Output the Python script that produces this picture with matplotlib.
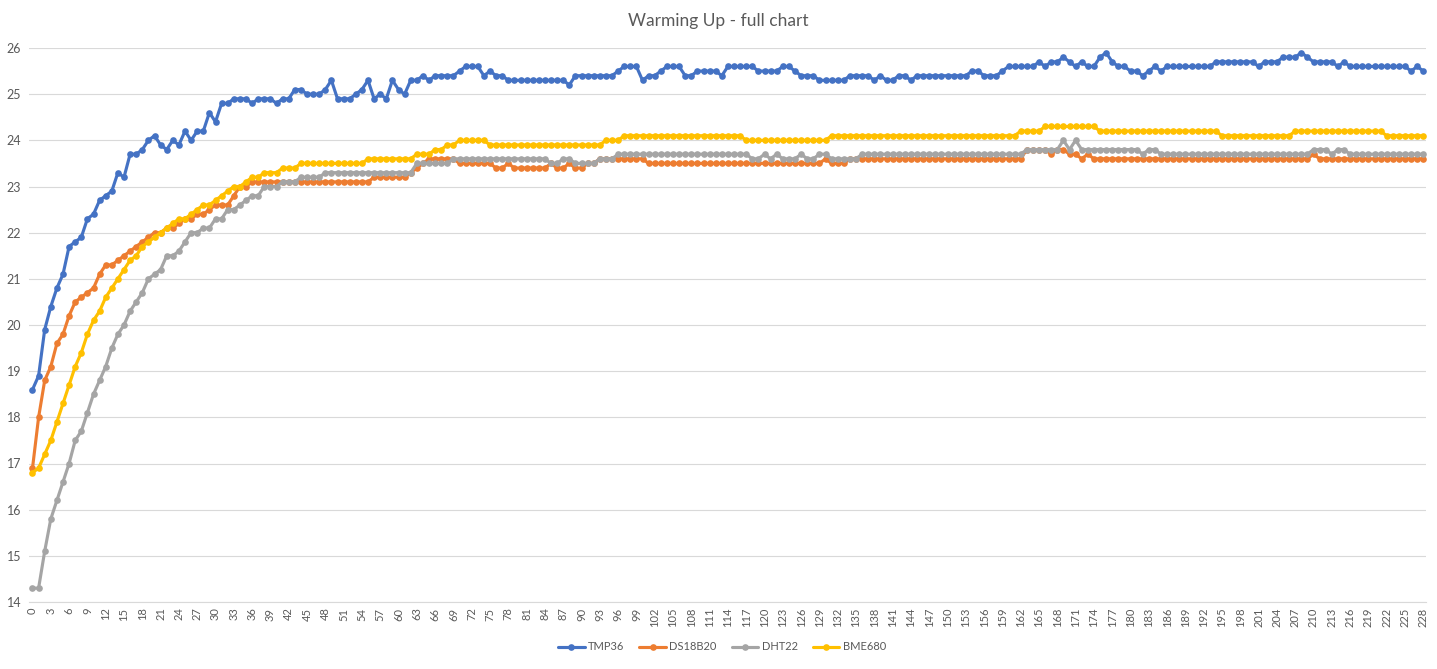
import matplotlib
matplotlib.use("Agg")
import matplotlib.pyplot as plt

plt.rcParams['font.family'] = ['Lato', 'DejaVu Sans']

# categories (sample number)
samples = list(range(229))

tmp36 = [
    18.6, 18.9, 19.9, 20.4, 20.8, 21.1, 21.7, 21.8, 21.9, 22.3,
    22.4, 22.7, 22.8, 22.9, 23.3, 23.2, 23.7, 23.7, 23.8, 24.0,
    24.1, 23.9, 23.8, 24.0, 23.9, 24.2, 24.0, 24.2, 24.2, 24.6,
    24.4, 24.8, 24.8, 24.9, 24.9, 24.9, 24.8, 24.9, 24.9, 24.9,
    24.8, 24.9, 24.9, 25.1, 25.1, 25.0, 25.0, 25.0, 25.1, 25.3,
    24.9, 24.9, 24.9, 25.0, 25.1, 25.3, 24.9, 25.0, 24.9, 25.3,
    25.1, 25.0, 25.3, 25.3, 25.4, 25.3, 25.4, 25.4, 25.4, 25.4,
    25.5, 25.6, 25.6, 25.6, 25.4, 25.5, 25.4, 25.4, 25.3, 25.3,
    25.3, 25.3, 25.3, 25.3, 25.3, 25.3, 25.3, 25.3, 25.2, 25.4,
    25.4, 25.4, 25.4, 25.4, 25.4, 25.4, 25.5, 25.6, 25.6, 25.6,
    25.3, 25.4, 25.4, 25.5, 25.6, 25.6, 25.6, 25.4, 25.4, 25.5,
    25.5, 25.5, 25.5, 25.4, 25.6, 25.6, 25.6, 25.6, 25.6, 25.5,
    25.5, 25.5, 25.5, 25.6, 25.6, 25.5, 25.4, 25.4, 25.4, 25.3,
    25.3, 25.3, 25.3, 25.3, 25.4, 25.4, 25.4, 25.4, 25.3, 25.4,
    25.3, 25.3, 25.4, 25.4, 25.3, 25.4, 25.4, 25.4, 25.4, 25.4,
    25.4, 25.4, 25.4, 25.4, 25.5, 25.5, 25.4, 25.4, 25.4, 25.5,
    25.6, 25.6, 25.6, 25.6, 25.6, 25.7, 25.6, 25.7, 25.7, 25.8,
    25.7, 25.6, 25.7, 25.6, 25.6, 25.8, 25.9, 25.7, 25.6, 25.6,
    25.5, 25.5, 25.4, 25.5, 25.6, 25.5, 25.6, 25.6, 25.6, 25.6,
    25.6, 25.6, 25.6, 25.6, 25.7, 25.7, 25.7, 25.7, 25.7, 25.7,
    25.7, 25.6, 25.7, 25.7, 25.7, 25.8, 25.8, 25.8, 25.9, 25.8,
    25.7, 25.7, 25.7, 25.7, 25.6, 25.7, 25.6, 25.6, 25.6, 25.6,
    25.6, 25.6, 25.6, 25.6, 25.6, 25.6, 25.5, 25.6, 25.5,
]

ds18b20 = [
    16.9, 18.0, 18.8, 19.1, 19.6, 19.8, 20.2, 20.5, 20.6, 20.7,
    20.8, 21.1, 21.3, 21.3, 21.4, 21.5, 21.6, 21.7, 21.8, 21.9,
    22.0, 22.0, 22.1, 22.1, 22.2, 22.3, 22.3, 22.4, 22.4, 22.5,
    22.6, 22.6, 22.6, 22.8, 23.0, 23.0, 23.1, 23.1, 23.1, 23.1,
    23.1, 23.1, 23.1, 23.1, 23.1, 23.1, 23.1, 23.1, 23.1, 23.1,
    23.1, 23.1, 23.1, 23.1, 23.1, 23.1, 23.2, 23.2, 23.2, 23.2,
    23.2, 23.2, 23.3, 23.4, 23.5, 23.6, 23.6, 23.6, 23.6, 23.6,
    23.5, 23.5, 23.5, 23.5, 23.5, 23.5, 23.4, 23.4, 23.5, 23.4,
    23.4, 23.4, 23.4, 23.4, 23.4, 23.5, 23.4, 23.4, 23.5, 23.4,
    23.4, 23.5, 23.5, 23.6, 23.6, 23.6, 23.6, 23.6, 23.6, 23.6,
    23.6, 23.5, 23.5, 23.5, 23.5, 23.5, 23.5, 23.5, 23.5, 23.5,
    23.5, 23.5, 23.5, 23.5, 23.5, 23.5, 23.5, 23.5, 23.5, 23.5,
    23.5, 23.5, 23.5, 23.5, 23.5, 23.5, 23.5, 23.5, 23.5, 23.5,
    23.6, 23.5, 23.5, 23.5, 23.6, 23.6, 23.6, 23.6, 23.6, 23.6,
    23.6, 23.6, 23.6, 23.6, 23.6, 23.6, 23.6, 23.6, 23.6, 23.6,
    23.6, 23.6, 23.6, 23.6, 23.6, 23.6, 23.6, 23.6, 23.6, 23.6,
    23.6, 23.6, 23.6, 23.8, 23.8, 23.8, 23.8, 23.7, 23.8, 23.8,
    23.7, 23.7, 23.6, 23.7, 23.6, 23.6, 23.6, 23.6, 23.6, 23.6,
    23.6, 23.6, 23.6, 23.6, 23.6, 23.6, 23.6, 23.6, 23.6, 23.6,
    23.6, 23.6, 23.6, 23.6, 23.6, 23.6, 23.6, 23.6, 23.6, 23.6,
    23.6, 23.6, 23.6, 23.6, 23.6, 23.6, 23.6, 23.6, 23.6, 23.6,
    23.7, 23.6, 23.6, 23.6, 23.6, 23.6, 23.6, 23.6, 23.6, 23.6,
    23.6, 23.6, 23.6, 23.6, 23.6, 23.6, 23.6, 23.6, 23.6,
]

dht22 = [
    14.3, 14.3, 15.1, 15.8, 16.2, 16.6, 17.0, 17.5, 17.7, 18.1,
    18.5, 18.8, 19.1, 19.5, 19.8, 20.0, 20.3, 20.5, 20.7, 21.0,
    21.1, 21.2, 21.5, 21.5, 21.6, 21.8, 22.0, 22.0, 22.1, 22.1,
    22.3, 22.3, 22.5, 22.5, 22.6, 22.7, 22.8, 22.8, 23.0, 23.0,
    23.0, 23.1, 23.1, 23.1, 23.2, 23.2, 23.2, 23.2, 23.3, 23.3,
    23.3, 23.3, 23.3, 23.3, 23.3, 23.3, 23.3, 23.3, 23.3, 23.3,
    23.3, 23.3, 23.3, 23.5, 23.5, 23.5, 23.5, 23.5, 23.5, 23.6,
    23.6, 23.6, 23.6, 23.6, 23.6, 23.6, 23.6, 23.6, 23.6, 23.6,
    23.6, 23.6, 23.6, 23.6, 23.6, 23.5, 23.5, 23.6, 23.6, 23.5,
    23.5, 23.5, 23.5, 23.6, 23.6, 23.6, 23.7, 23.7, 23.7, 23.7,
    23.7, 23.7, 23.7, 23.7, 23.7, 23.7, 23.7, 23.7, 23.7, 23.7,
    23.7, 23.7, 23.7, 23.7, 23.7, 23.7, 23.7, 23.7, 23.6, 23.6,
    23.7, 23.6, 23.7, 23.6, 23.6, 23.6, 23.7, 23.6, 23.6, 23.7,
    23.7, 23.6, 23.6, 23.6, 23.6, 23.6, 23.7, 23.7, 23.7, 23.7,
    23.7, 23.7, 23.7, 23.7, 23.7, 23.7, 23.7, 23.7, 23.7, 23.7,
    23.7, 23.7, 23.7, 23.7, 23.7, 23.7, 23.7, 23.7, 23.7, 23.7,
    23.7, 23.7, 23.7, 23.8, 23.8, 23.8, 23.8, 23.8, 23.8, 24.0,
    23.8, 24.0, 23.8, 23.8, 23.8, 23.8, 23.8, 23.8, 23.8, 23.8,
    23.8, 23.8, 23.7, 23.8, 23.8, 23.7, 23.7, 23.7, 23.7, 23.7,
    23.7, 23.7, 23.7, 23.7, 23.7, 23.7, 23.7, 23.7, 23.7, 23.7,
    23.7, 23.7, 23.7, 23.7, 23.7, 23.7, 23.7, 23.7, 23.7, 23.7,
    23.8, 23.8, 23.8, 23.7, 23.8, 23.8, 23.7, 23.7, 23.7, 23.7,
    23.7, 23.7, 23.7, 23.7, 23.7, 23.7, 23.7, 23.7, 23.7,
]

bme680 = [
    16.8, 16.9, 17.2, 17.5, 17.9, 18.3, 18.7, 19.1, 19.4, 19.8,
    20.1, 20.3, 20.6, 20.8, 21.0, 21.2, 21.4, 21.5, 21.7, 21.8,
    21.9, 22.0, 22.1, 22.2, 22.3, 22.3, 22.4, 22.5, 22.6, 22.6,
    22.7, 22.8, 22.9, 23.0, 23.0, 23.1, 23.2, 23.2, 23.3, 23.3,
    23.3, 23.4, 23.4, 23.4, 23.5, 23.5, 23.5, 23.5, 23.5, 23.5,
    23.5, 23.5, 23.5, 23.5, 23.5, 23.6, 23.6, 23.6, 23.6, 23.6,
    23.6, 23.6, 23.6, 23.7, 23.7, 23.7, 23.8, 23.8, 23.9, 23.9,
    24.0, 24.0, 24.0, 24.0, 24.0, 23.9, 23.9, 23.9, 23.9, 23.9,
    23.9, 23.9, 23.9, 23.9, 23.9, 23.9, 23.9, 23.9, 23.9, 23.9,
    23.9, 23.9, 23.9, 23.9, 24.0, 24.0, 24.0, 24.1, 24.1, 24.1,
    24.1, 24.1, 24.1, 24.1, 24.1, 24.1, 24.1, 24.1, 24.1, 24.1,
    24.1, 24.1, 24.1, 24.1, 24.1, 24.1, 24.1, 24.0, 24.0, 24.0,
    24.0, 24.0, 24.0, 24.0, 24.0, 24.0, 24.0, 24.0, 24.0, 24.0,
    24.0, 24.1, 24.1, 24.1, 24.1, 24.1, 24.1, 24.1, 24.1, 24.1,
    24.1, 24.1, 24.1, 24.1, 24.1, 24.1, 24.1, 24.1, 24.1, 24.1,
    24.1, 24.1, 24.1, 24.1, 24.1, 24.1, 24.1, 24.1, 24.1, 24.1,
    24.1, 24.1, 24.2, 24.2, 24.2, 24.2, 24.3, 24.3, 24.3, 24.3,
    24.3, 24.3, 24.3, 24.3, 24.3, 24.2, 24.2, 24.2, 24.2, 24.2,
    24.2, 24.2, 24.2, 24.2, 24.2, 24.2, 24.2, 24.2, 24.2, 24.2,
    24.2, 24.2, 24.2, 24.2, 24.2, 24.1, 24.1, 24.1, 24.1, 24.1,
    24.1, 24.1, 24.1, 24.1, 24.1, 24.1, 24.1, 24.2, 24.2, 24.2,
    24.2, 24.2, 24.2, 24.2, 24.2, 24.2, 24.2, 24.2, 24.2, 24.2,
    24.2, 24.2, 24.1, 24.1, 24.1, 24.1, 24.1, 24.1, 24.1,
]

series_names = ["TMP36", "DS18B20", "DHT22", "BME680"]
series_colors = ["#4472C4", "#ED7D31", "#A5A5A5", "#FFC000"]
y_ticks = list(range(14, 27))
x_tick_labels = [str(s) for s in samples[::3]]

W, H = 1437, 669
fig = plt.figure(figsize=(W / 100, H / 100), dpi=100)
ax = fig.add_axes([29.45 / W, 67 / H, 1396.9 / W, 554 / H])

for name, vals, col in zip(series_names, [tmp36, ds18b20, dht22, bme680], series_colors):
    ax.plot(samples, vals, color=col, lw=2.25, marker='o', markersize=4.8,
            markeredgewidth=0, label=name, solid_capstyle='round', solid_joinstyle='round')

ax.set_xlim(-0.5, 228.5)
ax.set_ylim(14, 26)
ax.set_yticks(y_ticks)
ax.set_xticks(samples[::3])
ax.set_xticklabels(x_tick_labels, rotation=90)
ax.yaxis.grid(True, color='#d9d9d9', lw=0.8)
ax.set_axisbelow(True)
for s in ['top', 'right', 'left']:
    ax.spines[s].set_visible(False)
ax.spines['bottom'].set_color('#d9d9d9')
ax.spines['bottom'].set_linewidth(0.8)
ax.tick_params(axis='both', length=0, colors='#595959')
ax.tick_params(axis='y', pad=6, labelsize=9)
ax.tick_params(axis='x', pad=4, labelsize=8)

fig.text(0.5, 1 - 21 / H, 'Warming Up - full chart', ha='center', va='center',
         fontsize=12.5, color='#595959')

fig.legend(loc='center', bbox_to_anchor=(722 / W, 1 - 647 / H), ncol=4,
           frameon=False, fontsize=8, handlelength=2.4, columnspacing=1.35,
           handletextpad=0.3, labelcolor='#595959')

fig.savefig('out.png', dpi=100)
